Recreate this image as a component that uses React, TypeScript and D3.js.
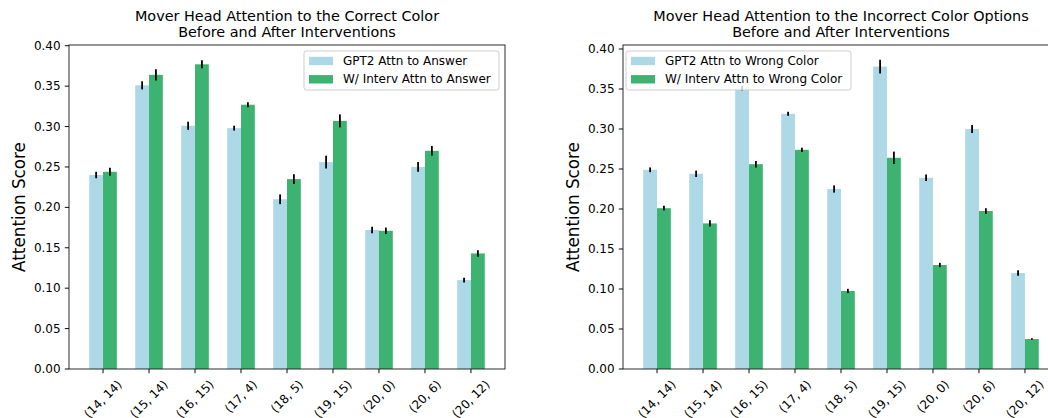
import React from "react";
import * as d3 from "d3";

const categories = ["(14, 14)", "(15, 14)", "(16, 15)", "(17, 4)", "(18, 5)", "(19, 15)", "(20, 0)", "(20, 6)", "(20, 12)"];

const correctGpt2 = [0.240, 0.351, 0.301, 0.298, 0.210, 0.256, 0.172, 0.250, 0.110];
const correctGpt2Err = [0.004, 0.005, 0.005, 0.003, 0.006, 0.008, 0.004, 0.006, 0.003];
const correctInterv = [0.244, 0.364, 0.377, 0.327, 0.235, 0.307, 0.171, 0.270, 0.143];
const correctIntervErr = [0.005, 0.007, 0.005, 0.003, 0.006, 0.008, 0.004, 0.006, 0.004];

const wrongGpt2 = [0.249, 0.244, 0.351, 0.319, 0.225, 0.378, 0.239, 0.300, 0.120];
const wrongGpt2Err = [0.003, 0.004, 0.003, 0.0025, 0.0045, 0.0085, 0.004, 0.005, 0.0035];
const wrongInterv = [0.201, 0.182, 0.256, 0.274, 0.0975, 0.264, 0.130, 0.1975, 0.0375];
const wrongIntervErr = [0.003, 0.004, 0.004, 0.0027, 0.0027, 0.0077, 0.0027, 0.0035, 0.001];

const yTicks = [0, 0.05, 0.1, 0.15, 0.2, 0.25, 0.3, 0.35, 0.4];

const LIGHT = "#ADD8E6";
const GREEN = "#3CB371";
const FONT = "DejaVu Sans";

const charW: Record<string, number> = { "(": 0.39, ")": 0.39, ",": 0.318, " ": 0.318 };
function textWidth(s: string, fs: number) {
  let w = 0;
  for (const c of s) w += charW[c] ?? 0.636;
  return w * fs;
}

type PanelProps = {
  left: number;
  right: number;
  yMax: number;
  title: string[];
  legendLabels: string[];
  legendLeft: boolean;
  legendWidth: number;
  s1: number[];
  e1: number[];
  s2: number[];
  e2: number[];
};

function Panel(p: PanelProps) {
  const top = 45;
  const bottom = 369;
  const fs = 12;
  const x = d3.scaleLinear().domain([-0.74, 8.74]).range([p.left, p.right]);
  const y = d3.scaleLinear().domain([0, p.yMax]).range([bottom, top]);
  const fmt = d3.format(".2f");
  const bw = 0.3;
  const cx = (p.left + p.right) / 2;
  const lgX = p.legendLeft ? p.left + 3 : p.right - 6 - p.legendWidth;
  const lgY = top + 6;
  const tickLen = 4.2;
  const pad = 4.2;
  const ylx = p.left - 50;
  const yly = (top + bottom) / 2;
  return (
    <g fontFamily={FONT}>
      {categories.map((c, i) => (
        <g key={c}>
          <rect x={x(i - bw)} y={y(p.s1[i])} width={x(i) - x(i - bw)} height={bottom - y(p.s1[i])} fill={LIGHT} />
          <rect x={x(i)} y={y(p.s2[i])} width={x(i + bw) - x(i)} height={bottom - y(p.s2[i])} fill={GREEN} />
        </g>
      ))}
      {categories.map((c, i) => (
        <g key={"e" + c} stroke="#000" strokeWidth={1.8}>
          <line x1={x(i - bw / 2)} x2={x(i - bw / 2)} y1={y(p.s1[i] - p.e1[i])} y2={y(p.s1[i] + p.e1[i])} />
          <line x1={x(i + bw / 2)} x2={x(i + bw / 2)} y1={y(p.s2[i] - p.e2[i])} y2={y(p.s2[i] + p.e2[i])} />
        </g>
      ))}
      <rect x={p.left} y={top} width={p.right - p.left} height={bottom - top} fill="none" stroke="#222" strokeWidth={0.96} />
      {yTicks.map((t) => (
        <g key={t}>
          <line x1={p.left - tickLen} x2={p.left} y1={y(t)} y2={y(t)} stroke="#000" strokeWidth={0.96} />
          <text x={p.left - tickLen - pad} y={y(t)} textAnchor="end" dominantBaseline="central" fontSize={fs} fill="#000">
            {fmt(t)}
          </text>
        </g>
      ))}
      {categories.map((c, i) => {
        const w = textWidth(c, fs);
        const h = 14;
        const H = (w + h) * Math.SQRT1_2;
        const ty = bottom + tickLen + pad + H / 2;
        return (
          <g key={"x" + c}>
            <line x1={x(i)} x2={x(i)} y1={bottom} y2={bottom + tickLen} stroke="#000" strokeWidth={0.96} />
            <text
              x={x(i)}
              y={ty}
              textAnchor="middle"
              dominantBaseline="central"
              fontSize={fs}
              transform={`rotate(-45 ${x(i)} ${ty})`}
            >
              {c}
            </text>
          </g>
        );
      })}
      <text
        x={ylx}
        y={yly}
        textAnchor="middle"
        dominantBaseline="central"
        fontSize={16.8}
        transform={`rotate(-90 ${ylx} ${yly})`}
      >
        Attention Score
      </text>
      <text x={cx} y={20.7} textAnchor="middle" fontSize={14.4}>
        {p.title[0]}
      </text>
      <text x={cx} y={37} textAnchor="middle" fontSize={14.4}>
        {p.title[1]}
      </text>
      <g>
        <rect x={lgX} y={lgY} width={p.legendWidth} height={39} rx={2.5} fill="#fff" fillOpacity={0.8} stroke="#ccc" strokeWidth={0.96} />
        {p.legendLabels.map((l, k) => (
          <g key={l}>
            <rect x={lgX + 5} y={lgY + 10 + k * 18.3 - 4.2} width={24} height={8.4} fill={k === 0 ? LIGHT : GREEN} />
            <text x={lgX + 39} y={lgY + 10 + k * 18.3} dominantBaseline="central" fontSize={fs}>
              {l}
            </text>
          </g>
        ))}
      </g>
    </g>
  );
}

export default function App() {
  return (
    <svg width={1048} height={418} style={{ position: "absolute", left: 0, top: 0, background: "#fff" }}>
      <rect width={1048} height={418} fill="#fff" />
      <Panel
        left={69}
        right={505}
        yMax={0.4009}
        title={["Mover Head Attention to the Correct Color", "Before and After Interventions"]}
        legendLabels={["GPT2 Attn to Answer", "W/ Interv Attn to Answer"]}
        legendLeft={false}
        legendWidth={195}
        s1={correctGpt2}
        e1={correctGpt2Err}
        s2={correctInterv}
        e2={correctIntervErr}
      />
      <Panel
        left={623}
        right={1059}
        yMax={0.405}
        title={["Mover Head Attention to the Incorrect Color Options", "Before and After Interventions"]}
        legendLabels={["GPT2 Attn to Wrong Color", "W/ Interv Attn to Wrong Color"]}
        legendLeft={true}
        legendWidth={225}
        s1={wrongGpt2}
        e1={wrongGpt2Err}
        s2={wrongInterv}
        e2={wrongIntervErr}
      />
    </svg>
  );
}
